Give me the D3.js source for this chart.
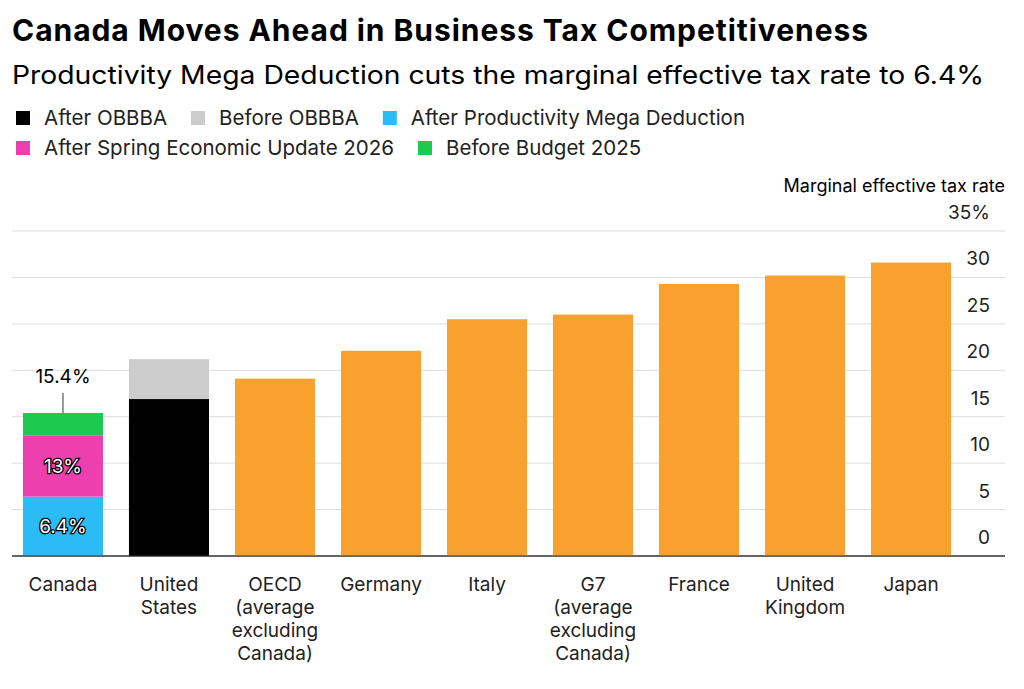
<!DOCTYPE html>
<html><head><meta charset="utf-8">
<script src="https://cdn.jsdelivr.net/npm/d3@7"></script>
<style>body{margin:0;background:#fff;font-family:Inter,"Noto Sans",sans-serif}</style>
</head><body><svg id="chart" width="1024" height="689"></svg>
<script>
// data
const countries = ["Canada","United States","OECD (average excluding Canada)","Germany","Italy","G7 (average excluding Canada)","France","United Kingdom","Japan"];
const countryLines = [["Canada"],["United","States"],["OECD","(average","excluding","Canada)"],["Germany"],["Italy"],["G7","(average","excluding","Canada)"],["France"],["United","Kingdom"],["Japan"]];
const rates = [null,null,19.1,22.1,25.5,26.0,29.3,30.2,31.6];
const canadaStack = [{name:"After Productivity Mega Deduction",v:6.4},{name:"After Spring Economic Update 2026",v:13},{name:"Before Budget 2025",v:15.4}];
const usBefore = 21.2, usAfter = 16.9;
const yTicks = [0,5,10,15,20,25,30,35];
const legendRow1 = [["After OBBBA","#000"],["Before OBBBA","#cccccc"],["After Productivity Mega Deduction","#2bbcf5"]];
const legendRow2 = [["After Spring Economic Update 2026","#ee3fae"],["Before Budget 2025","#1ec94f"]];
const orange = "#f9a12e";

const svg = d3.select("#chart");
svg.append("text").attr("x",12).attr("y",41).attr("font-size",30).attr("font-weight",700).attr("textLength",856).text("Canada Moves Ahead in Business Tax Competitiveness");
svg.append("text").attr("x",12).attr("y",84).attr("font-size",25.5).attr("textLength",972).attr("lengthAdjust","spacingAndGlyphs").text("Productivity Mega Deduction cuts the marginal effective tax rate to 6.4%");

function legend(items,y){
  let x=16;
  items.forEach(([t,c])=>{
    svg.append("rect").attr("x",x).attr("y",y-14).attr("width",14).attr("height",14).attr("fill",c);
    const tx=svg.append("text").attr("x",x+28).attr("y",y).attr("font-size",20.5).attr("fill","#222").text(t);
    x += 28 + tx.node().getComputedTextLength() + 24;
  });
}
legend(legendRow1,125);
legend(legendRow2,155);

const y = d3.scaleLinear().domain([0,35]).range([556,231]);
const x = d3.scaleBand().domain(countries).range([6,968]).paddingInner(0.245).paddingOuter(0.16);

svg.append("text").attr("x",1005).attr("y",192).attr("text-anchor","end").attr("font-size",18).text("Marginal effective tax rate");
yTicks.forEach(t=>{
  svg.append("line").attr("x1",12).attr("x2",1005).attr("y1",y(t)).attr("y2",y(t)).attr("stroke",t===0?"#333":"#ddd").attr("stroke-width",1);
  svg.append("text").attr("x",990).attr("y",y(t)-12).attr("text-anchor","end").attr("font-size",19).attr("fill","#222").text(t===35?"35%":t);
});

// Canada stacked
const cx = x("Canada"), bw = x.bandwidth();
const stackCols = ["#2bbcf5","#ee3fae","#1ec94f"];
let prev=0;
canadaStack.forEach((d,i)=>{
  svg.append("rect").attr("x",cx).attr("width",bw).attr("y",y(d.v)).attr("height",y(prev)-y(d.v)).attr("fill",stackCols[i]);
  prev=d.v;
});
[["6.4%",6.4/2],["13%",(6.4+13)/2]].forEach(([t,v])=>{
  svg.append("text").attr("x",cx+bw/2).attr("y",y(v)+7).attr("text-anchor","middle").attr("font-size",19)
    .attr("fill","#fff").attr("stroke","#000").attr("stroke-width",2.5).attr("paint-order","stroke").text(t);
});
svg.append("line").attr("x1",cx+bw/2).attr("x2",cx+bw/2).attr("y1",y(15.4)).attr("y2",y(15.4)-20).attr("stroke","#333");
svg.append("text").attr("x",cx+bw/2).attr("y",y(15.4)-30).attr("text-anchor","middle").attr("font-size",19).text("15.4%");

// US
const ux = x("United States");
svg.append("rect").attr("x",ux).attr("width",bw).attr("y",y(usBefore)).attr("height",y(usAfter)-y(usBefore)).attr("fill","#cccccc");
svg.append("rect").attr("x",ux).attr("width",bw).attr("y",y(usAfter)).attr("height",y(0)-y(usAfter)).attr("fill","#000");

// others
countries.forEach((c,i)=>{
  if(rates[i]==null) return;
  svg.append("rect").attr("x",x(c)).attr("width",bw).attr("y",y(rates[i])).attr("height",y(0)-y(rates[i])).attr("fill",orange);
});
svg.append("line").attr("x1",12).attr("x2",1005).attr("y1",y(0)).attr("y2",y(0)).attr("stroke","#333");

countryLines.forEach((ls,i)=>{
  ls.forEach((l,j)=>{
    svg.append("text").attr("x",x(countries[i])+bw/2).attr("y",591+j*23).attr("text-anchor","middle").attr("font-size",19).attr("fill","#222").text(l);
  });
});
</script></body></html>
